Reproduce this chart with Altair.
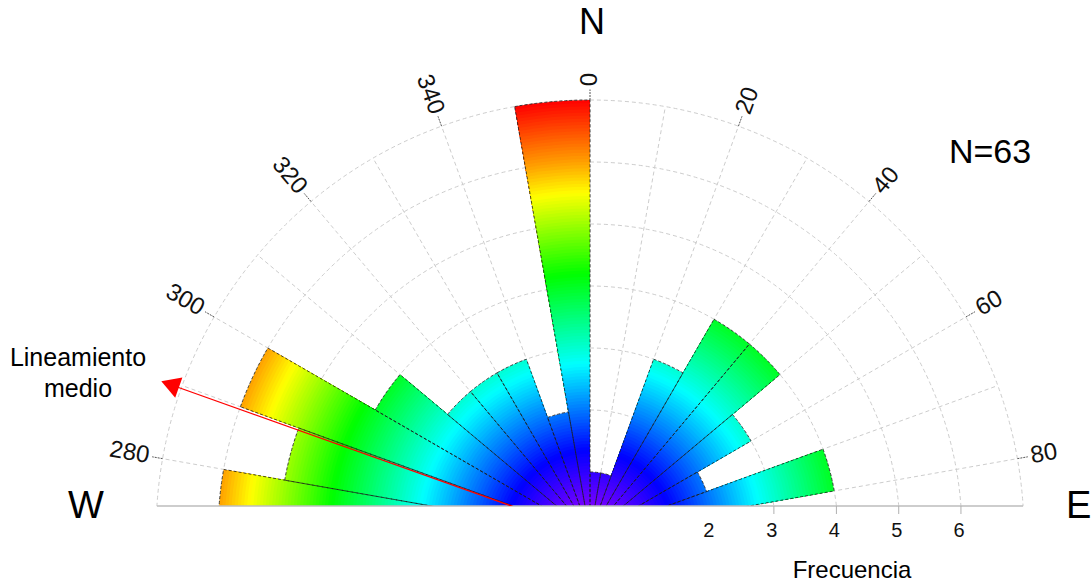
import math
import altair as alt
import pandas as pd

# ---------------- data ----------------
bin_start = [270, 280, 290, 300, 310, 320, 330, 340, 350, 0, 10, 20, 30, 40, 50, 60, 70, 80]
frequency = [6, 5, 6, 4, 3, 3, 3, 2, 7, 1, 1, 3, 4, 4, 3, 2, 4, 2]
bin_width = 10
angle_labels = [280, 300, 320, 340, 0, 20, 40, 60, 80]
freq_labels = [2, 3, 4, 5, 6]
freq_tick_marks = [3, 4, 5, 6]
ring_values = [1, 2, 3, 4, 5, 6, 7]
grid_directions = [270, 280, 290, 300, 310, 320, 330, 340, 350, 0, 10, 20, 30, 40, 50, 60, 70, 80, 90]
mean_direction = [289.6]
n_total = 63
color_stops = [0, 0.45, 1.35, 2.75, 4.2, 5.5, 6.0, 7.0]
color_values = ["#a000ff", "#7800ff", "#0000ff", "#00ffff", "#00ff00", "#ffff00", "#ffa000", "#ff0000"]

# ---------------- layout ----------------
UNIT = 62.0
CX, CY = 590.0, 534.0
BASE = 506.0
W, H = 1092, 506
RMAX = 7
FONT = "Liberation Sans"
b = (CY - BASE) / UNIT

x_scale = alt.Scale(domain=[-CX / UNIT, (W - CX) / UNIT], nice=False, zero=False)
y_scale = alt.Scale(domain=[b, CY / UNIT], nice=False, zero=False)
r_scale = alt.Scale(type="linear", domain=[0, RMAX], range=[0, RMAX * UNIT], zero=True, nice=False)
t_scale = alt.Scale(domain=[0, 360], range=[0, 2 * math.pi])

step = 0.05
rows = []
for a, f in zip(bin_start, frequency):
    n = int(round(f / step))
    for k in range(n, 0, -1):
        rows.append({"a0": a, "a1": a + bin_width, "r": k * step, "c": (k - 0.5) * step})
slices = pd.DataFrame(rows).sort_values("r", ascending=False, kind="stable").reset_index(drop=True)
bars = pd.DataFrame({"a0": bin_start, "a1": [a + bin_width for a in bin_start], "f": frequency})
rings_df = pd.DataFrame({"ring": ring_values, "t0": [0] * len(ring_values), "t1": [360] * len(ring_values)})

X = lambda f: alt.X(f, scale=x_scale, axis=None)
Y = lambda f: alt.Y(f, scale=y_scale, axis=None)
CXD = alt.X(datum=0, scale=x_scale, axis=None)
CYD = alt.Y(datum=0, scale=y_scale, axis=None)

grid_color = "#cdcdcd"

rings = alt.Chart(rings_df).mark_arc(
    clip=True, fillOpacity=0, stroke=grid_color, strokeWidth=1, strokeDash=[4, 3]
).encode(
    x=CXD, y=CYD,
    theta=alt.Theta("t0:Q", scale=t_scale, stack=False), theta2="t1:Q",
    radius=alt.Radius("ring:Q", scale=r_scale),
)

spokes = alt.Chart(pd.DataFrame({"az": grid_directions})).transform_calculate(
    x0="0", y0="0",
    x1=f"{RMAX}*sin(datum.az*PI/180)", y1=f"{RMAX}*cos(datum.az*PI/180)",
).mark_rule(clip=True, stroke=grid_color, strokeWidth=1, strokeDash=[4, 3]).encode(
    x=X("x0:Q"), y=Y("y0:Q"), x2="x1:Q", y2="y1:Q"
)

fill = alt.Chart(slices).mark_arc(clip=True).encode(
    x=CXD, y=CYD,
    theta=alt.Theta("a0:Q", scale=t_scale, stack=False),
    theta2="a1:Q",
    radius=alt.Radius("r:Q", scale=r_scale),
    color=alt.Color("c:Q", scale=alt.Scale(domain=color_stops, range=color_values, interpolate="rgb"), legend=None),
)

outline = alt.Chart(bars).mark_arc(
    clip=True, fillOpacity=0, stroke="#1e1e1e", strokeWidth=0.8, strokeDash=[3, 2]
).encode(
    x=CXD, y=CYD,
    theta=alt.Theta("a0:Q", scale=t_scale, stack=False),
    theta2="a1:Q",
    radius=alt.Radius("f:Q", scale=r_scale),
)

baseline = alt.Chart(pd.DataFrame({"ring": [RMAX]})).transform_calculate(
    xa=f"-sqrt(datum.ring*datum.ring-{b}*{b})", xb=f"sqrt(datum.ring*datum.ring-{b}*{b})", yb=f"{b}"
).mark_rule(stroke="#bdbdbd", strokeWidth=1.5).encode(x=X("xa:Q"), x2="xb:Q", y=Y("yb:Q"))

fticks = alt.Chart(pd.DataFrame({"v": freq_tick_marks})).transform_calculate(
    fx=f"sqrt(datum.v*datum.v-{b}*{b})", fy=f"{b}", fy2=f"{b}-8/{UNIT}"
).mark_rule(stroke="#b0b0b0", strokeWidth=1).encode(x=X("fx:Q"), y=Y("fy:Q"), y2="fy2:Q")

flabels = alt.Chart(pd.DataFrame({"v": freq_labels})).transform_calculate(
    fx=f"sqrt(datum.v*datum.v-{b}*{b})", fy=f"{b}"
).mark_text(font=FONT, fontSize=20, dy=25, dx=-2, color="#111").encode(
    x=X("fx:Q"), y=Y("fy:Q"), text="v:Q"
)

aticks = alt.Chart(pd.DataFrame({"az": angle_labels})).transform_calculate(
    x0=f"{RMAX}*sin(datum.az*PI/180)", y0=f"{RMAX}*cos(datum.az*PI/180)",
    x1="7.17*sin(datum.az*PI/180)", y1="7.17*cos(datum.az*PI/180)",
).mark_rule(stroke="#555555", strokeWidth=1, strokeDash=[2, 1]).encode(
    x=X("x0:Q"), y=Y("y0:Q"), x2="x1:Q", y2="y1:Q"
)

alab_base = alt.Chart(pd.DataFrame({"az": angle_labels})).transform_calculate(
    lx="7.22*sin(datum.az*PI/180)", ly="7.22*cos(datum.az*PI/180)",
    rot="datum.az >= 180 ? datum.az - 270 : datum.az + 270",
)
alab_left = alab_base.transform_filter("datum.az >= 180").mark_text(
    font=FONT, fontSize=24, align="right", baseline="middle", color="#111"
).encode(x=X("lx:Q"), y=Y("ly:Q"), angle=alt.Angle("rot:Q", scale=None), text=alt.Text("az:Q", format="d"))
alab_right = alab_base.transform_filter("datum.az < 180").mark_text(
    font=FONT, fontSize=24, align="left", baseline="middle", color="#111"
).encode(x=X("lx:Q"), y=Y("ly:Q"), angle=alt.Angle("rot:Q", scale=None), text=alt.Text("az:Q", format="d"))

mean_base = alt.Chart(pd.DataFrame({"mean": mean_direction})).transform_calculate(
    x0="0", y0="0",
    ex="7.2*sin(datum.mean*PI/180)", ey="7.2*cos(datum.mean*PI/180)",
    tx="7.19*sin(datum.mean*PI/180)", ty="7.19*cos(datum.mean*PI/180)",
)
mean_line = mean_base.mark_rule(clip=True, stroke="#ff0000", strokeWidth=1.3).encode(
    x=X("x0:Q"), y=Y("y0:Q"), x2="ex:Q", y2="ey:Q"
)
mean_head = mean_base.mark_point(shape="triangle-up", filled=True, color="#ff0000", size=460, opacity=1).encode(
    x=X("tx:Q"), y=Y("ty:Q"), angle=alt.Angle("mean:Q", scale=None)
)

def note(text, x, y, size, align="center"):
    return alt.Chart(pd.DataFrame({"t": [text]})).mark_text(
        font=FONT, fontSize=size, align=align, baseline="middle", color="#000"
    ).encode(x=alt.value(x), y=alt.value(y), text="t:N")

notes = [
    note("N", 592, 23, 36),
    note("W", 86, 507, 38),
    note("E", 1066, 507, 38, align="left"),
    note(f"N={n_total}", 990, 153, 34),
    note("Lineamiento", 78, 358, 25),
    note("medio", 78, 389, 25),
    note("Frecuencia", 852, 571, 24),
]

chart = alt.layer(
    rings, spokes, fill, outline, baseline, fticks, flabels, aticks, alab_left, alab_right,
    mean_line, mean_head, *notes
).properties(
    width=W, height=H,
    autosize=alt.AutoSizeParams(type="none"),
    padding={"left": 0, "right": 0, "top": 0, "bottom": 80},
    background="white",
).configure_view(strokeOpacity=0)

chart.save("out.html", embed_options={"renderer": "svg", "actions": False})
